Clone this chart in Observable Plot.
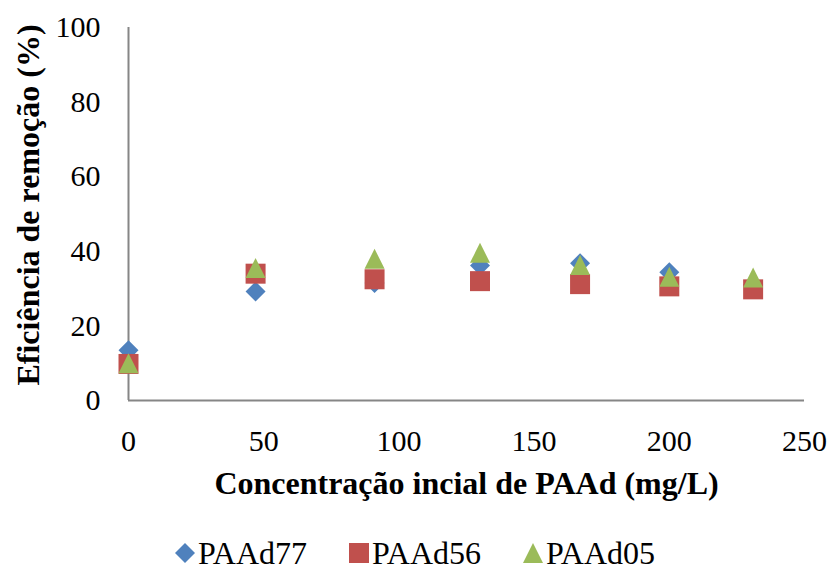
<!DOCTYPE html>
<html>
<head>
<meta charset="utf-8">
<script src="https://cdn.jsdelivr.net/npm/d3@7"></script>
<script src="https://cdn.jsdelivr.net/npm/@observablehq/plot@0.6"></script>
<style>
  html, body { margin: 0; padding: 0; background: #fff; }
  #wrap { position: relative; width: 833px; height: 571px; overflow: hidden; background: #fff; }
  #legend { position: absolute; left: 0; top: 520px; width: 833px; height: 51px;
            font-family: "Liberation Serif", "Times New Roman", serif; font-size: 32px; color: #000; }
  #legend .sw { position: absolute; top: 23px; width: 20px; height: 20px; }
  #legend .lb { position: absolute; top: 16px; line-height: 34px; white-space: nowrap; }
</style>
</head>
<body>
<div id="wrap"></div>
<script>
// ---- data ----
const concentrations = [0, 47, 91, 130, 167, 200, 231];
const paad77 = [13.5, 29.2, 31.5, 36.2, 36.8, 34.4, 31.0];
const paad56 = [9.8, 34.0, 32.5, 32.0, 31.2, 30.6, 29.8];
const paad05 = [10.0, 35.5, 38.0, 39.6, 36.3, 33.2, 33.0];
const seriesNames = ["PAAd77", "PAAd56", "PAAd05"];
const xTicks = [0, 50, 100, 150, 200, 250];
const yTicks = [0, 20, 40, 60, 80, 100];
const xTitle = "Concentração incial de PAAd (mg/L)";
const yTitle = "Eficiência de remoção (%)";

// ---- styles ----
const colors = ["#4F81BD", "#C0504D", "#9BBB59"];
const diamondSym = {draw(ctx, size) { const h = Math.sqrt(size / Math.PI);
  ctx.moveTo(0, -h); ctx.lineTo(h, 0); ctx.lineTo(0, h); ctx.lineTo(-h, 0); ctx.closePath(); }};
const squareSym = {draw(ctx, size) { const h = Math.sqrt(size / Math.PI);
  ctx.moveTo(-h, -h); ctx.lineTo(h, -h); ctx.lineTo(h, h); ctx.lineTo(-h, h); ctx.closePath(); }};
const triangleSym = {draw(ctx, size) { const h = Math.sqrt(size / Math.PI);
  ctx.moveTo(0, -h); ctx.lineTo(h, h); ctx.lineTo(-h, h); ctx.closePath(); }};
const symbols = [diamondSym, squareSym, triangleSym];

const seriesValues = [paad77, paad56, paad05];
const tables = seriesValues.map((vals, s) =>
  concentrations.map((c, i) => ({series: seriesNames[s], x: c, y: vals[i]})));

const axisColor = "#868686";

const chart = Plot.plot({
  width: 833,
  height: 520,
  marginLeft: 128,
  marginRight: 29,
  marginTop: 27,
  marginBottom: 120,
  style: {fontFamily: "'Liberation Serif', 'Times New Roman', serif", fontSize: "30px", color: "#000", background: "#fff"},
  x: {domain: [0, 250], ticks: xTicks, tickSize: 0, tickPadding: 29, label: null, tickFormat: d => String(d)},
  y: {domain: [0, 100], ticks: yTicks, tickSize: 0, tickPadding: 28, label: null, tickFormat: d => String(d)},
  marks: [
    Plot.ruleX([0], {stroke: axisColor, strokeWidth: 2}),
    Plot.ruleY([0], {stroke: axisColor, strokeWidth: 2}),
    ...tables.map((t, s) => Plot.dot(t, {x: "x", y: "y", symbol: symbols[s], r: 10, fill: colors[s], stroke: "none", fillOpacity: 1})),
    Plot.text([xTitle], {frameAnchor: "bottom", lineAnchor: "middle", textAnchor: "middle", dy: 83, fontWeight: "bold", fontSize: 32, fill: "#000"}),
    Plot.text([yTitle], {frameAnchor: "left", lineAnchor: "middle", textAnchor: "middle", rotate: -90, dx: -100, dy: -9, fontWeight: "bold", fontSize: 32, fill: "#000"})
  ]
});
document.getElementById("wrap").appendChild(chart);

// ---- legend ----
const legend = document.createElement("div");
legend.id = "legend";
const legendLefts = [175, 349, 523];
const legendPaths = [
  "M10,0L20,10L10,20L0,10Z",
  "M0,0H20V20H0Z",
  "M10,0L20,20L0,20Z"
];
seriesNames.forEach((name, s) => {
  const sw = document.createElementNS("http://www.w3.org/2000/svg", "svg");
  sw.setAttribute("class", "sw");
  sw.setAttribute("viewBox", "0 0 20 20");
  sw.style.left = legendLefts[s] + "px";
  const p = document.createElementNS("http://www.w3.org/2000/svg", "path");
  p.setAttribute("d", legendPaths[s]);
  p.setAttribute("fill", colors[s]);
  sw.appendChild(p);
  legend.appendChild(sw);
  const lb = document.createElement("span");
  lb.className = "lb";
  lb.style.left = (legendLefts[s] + 23) + "px";
  lb.textContent = name;
  legend.appendChild(lb);
});
document.getElementById("wrap").appendChild(legend);
</script>
</body>
</html>
